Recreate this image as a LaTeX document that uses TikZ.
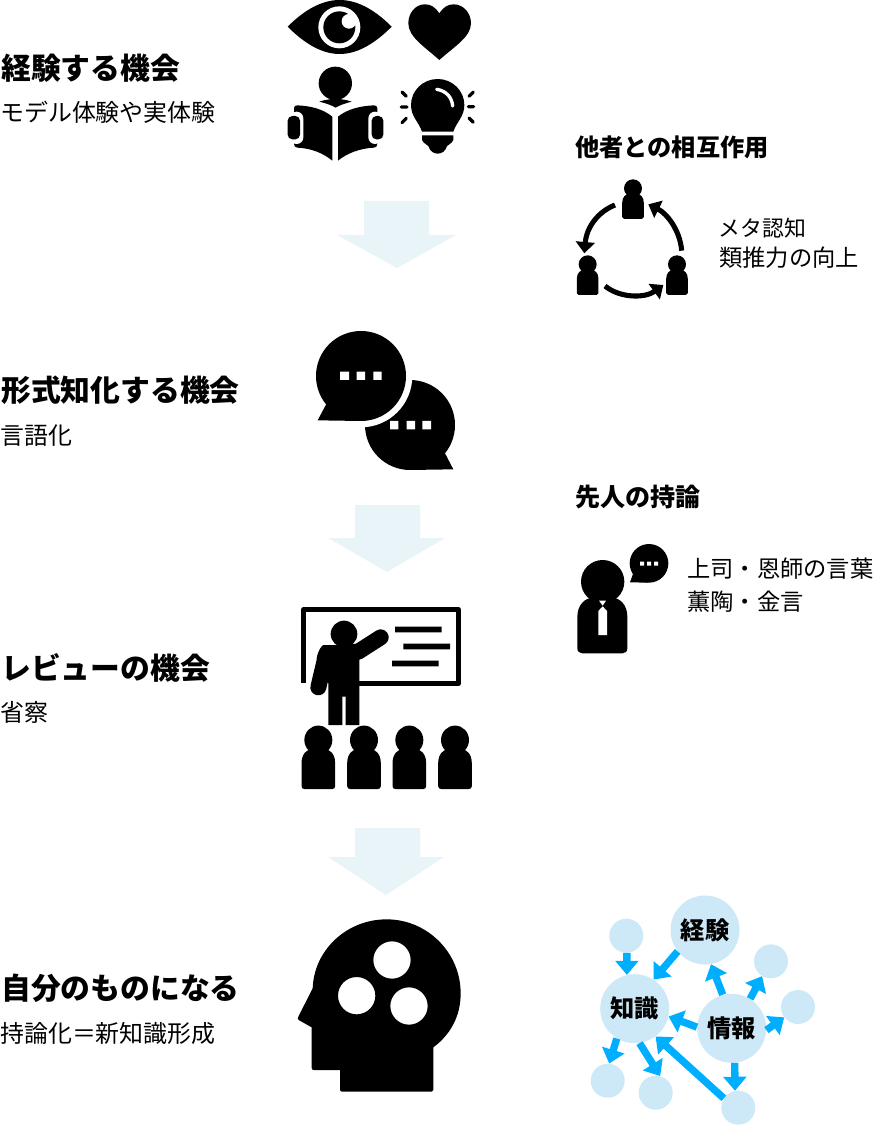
\documentclass[tikz,border=0pt]{standalone}
\usepackage{fontspec}
\setmainfont{Noto Sans CJK JP}
\usetikzlibrary{arrows.meta}
\definecolor{bigarrow}{HTML}{E8F4F8}
\definecolor{bubble}{HTML}{CDE8F6}
\definecolor{flow}{HTML}{00AEFF}
\tikzset{
  hdg/.style={anchor=base west,inner sep=0pt,font=\bfseries\fontsize{22.35}{26}\selectfont},
  subhdg/.style={anchor=base west,inner sep=0pt,font=\bfseries\fontsize{18.15}{22}\selectfont},
  txt/.style={anchor=base west,inner sep=0pt,font=\fontsize{17.45}{22}\selectfont},
  subtxt/.style={anchor=base west,inner sep=0pt,font=\fontsize{17.95}{22}\selectfont},
  bign/.style={circle,fill=bubble,inner sep=0pt,minimum size=51.75pt,font=\bfseries\fontsize{18.2}{22}\selectfont},
  smalln/.style={circle,fill=bubble,inner sep=0pt,minimum size=25.5pt},
  flowarrow/.style={draw=flow,line width=5.5pt,-{Triangle[length=10.5pt,width=17pt]}},
  cyclearrow/.style={line width=3.8pt,-{Triangle[length=8.5pt,width=14pt]}},
  zoomed/.style={shift={#1},scale=0.33333},
  personicon/.pic={
    \fill (0,0) circle (1);
    \fill (-1.2,1.6) .. controls (-1.2,0.95) and (-0.8,0.62) .. (-0.4,0.62) -- (0.4,0.62)
      .. controls (0.8,0.62) and (1.2,0.95) .. (1.2,1.6) -- (1.2,3.2)
      .. controls (1.2,3.32) and (1.12,3.4) .. (1,3.4) -- (-1,3.4)
      .. controls (-1.12,3.4) and (-1.2,3.32) .. (-1.2,3.2) -- cycle;
  }
}
\begin{document}
\begin{tikzpicture}[x=0.75pt,y=-0.75pt]
\useasboundingbox (0,0) rectangle (894,1144);
% --- texts
\node[hdg] (t1) at (1,80) {経験する機会};
\node[subtxt] (t1s) at (0,122) {モデル体験や実体験};
\node[hdg] (t2) at (1,401) {形式知化する機会};
\node[subtxt] (t2s) at (0,444) {言語化};
\node[hdg] (t3) at (1,679) {レビューの機会};
\node[subtxt] (t3s) at (0,721) {省察};
\node[hdg] (t4) at (1,999) {自分のものになる};
\node[subtxt] (t4s) at (0,1042) {持論化＝新知識形成};
\node[subhdg] (r1) at (575,157) {他者との相互作用};
\node[txt,font=\fontsize{16.4}{22}\selectfont] (r1a) at (718.5,237) {メタ認知};
\node[txt] (r1b) at (719,267) {類推力の向上};
\node[subhdg,font=\bfseries\fontsize{18.8}{22}\selectfont] (r2) at (575,506) {先人の持論};
\node[txt] (r2a) at (687,577) {上司・恩師の言葉};
\node[txt] (r2b) at (687,610) {薫陶・金言};
% --- big arrows
\fill[bigarrow] (364,201) -- (429,201) -- (429,235) -- (456,235) -- (397,268) -- (337,235) -- (364,235) -- cycle;
\fill[bigarrow] (355,505) -- (420,505) -- (420,538) -- (445,538) -- (387,572) -- (328,538) -- (355,538) -- cycle;
\fill[bigarrow] (355,828) -- (420,828) -- (420,857) -- (444,857) -- (386,895) -- (328,857) -- (355,857) -- cycle;
% --- eye, heart, reader, bulb
\begin{scope}[zoomed={(270,0)}]
  \fill (53,80) .. controls (97,36) and (150,0) .. (209,0) .. controls (268,0) and (321,36) .. (365,80)
     .. controls (321,124) and (268,162) .. (209,162) .. controls (150,162) and (97,124) .. cycle;
  \fill[white] (208,82) circle (63);
  \fill (208,82) circle (48);
  \fill[white] (237,64) circle (22);
  \fill (508,40) .. controls (495,21) and (483,13) .. (465,13) .. controls (435,13) and (415,40) .. (415,70)
     .. controls (415,111) and (465,141) .. (508,180) .. controls (551,141) and (603,111) .. (603,70)
     .. controls (603,40) and (581,13) .. (551,13) .. controls (533,13) and (521,21) .. cycle;
  % reader
  \fill (196,250) circle (50);
  \fill (148,305) .. controls (180,294) and (214,294) .. (245,305) .. controls (225,310) and (208,316) .. (197,323) .. controls (186,316) and (168,310) .. cycle;
  \fill (72,325) .. controls (72,319) and (76,316) .. (82,316) .. controls (125,318) and (160,328) .. (187,350)
     -- (187,482) .. controls (160,460) and (125,445) .. (82,443) .. controls (76,443) and (72,438) .. (72,432) -- cycle;
  \fill (322,325) .. controls (322,319) and (318,316) .. (312,316) .. controls (269,318) and (231,328) .. (204,350)
     -- (204,482) .. controls (231,460) and (269,445) .. (312,443) .. controls (318,443) and (322,438) .. (322,432) -- cycle;
  \fill[white,rounded corners=5pt] (60,335) rectangle (100,432);
  \fill[white,rounded corners=5pt] (295,335) rectangle (335,432);
  \fill[rounded corners=3.5pt] (53,348) rectangle (90,418);
  \fill[rounded corners=3.5pt] (305,348) rectangle (340,418);
  % bulb
  \fill (503,237) .. controls (547,237) and (583,272) .. (583,315) .. controls (583,350) and (560,365) .. (550,395)
     -- (456,395) .. controls (446,365) and (423,350) .. (423,315) .. controls (423,272) and (459,237) .. cycle;
  \fill (456,406) -- (550,406) -- (550,420) .. controls (545,432) and (530,436) .. (530,440)
     .. controls (527,452) and (516,461) .. (503,461) .. controls (490,461) and (479,452) .. (476,440)
     .. controls (476,436) and (461,432) .. (456,420) -- cycle;
  \draw[white,line width=2.5pt,line cap=round] (500,268) .. controls (528,272) and (546,292) .. (548,318);
  \draw[line width=2.4pt,line cap=round]
     (396,276) -- (409,289) (394,321) -- (411,321) (396,368) -- (409,355)
     (610,276) -- (597,289) (595,320) -- (611,320) (597,354) -- (610,367);
\end{scope}
% --- speech bubbles
\begin{scope}[zoomed={(305,320)}]
  \fill (315,315) circle (135);
  \fill (420,400) -- (445,448) -- (315,450) -- cycle;
  \fill[white] (168,168) circle (154);
  \fill (168,168) circle (135);
  \fill (65,250) -- (38,301) -- (168,303) -- cycle;
  \fill[white] (105,155) rectangle (132,180) (155,155) rectangle (180,180) (205,155) rectangle (230,180);
  \fill[white] (255,303) rectangle (280,328) (305,303) rectangle (330,328) (352,303) rectangle (378,328);
\end{scope}
% --- cycle icon
\begin{scope}[zoomed={(570,170)}]
  \pic[scale=9] at (189,55) {personicon};
  \pic[scale=9] at (53,283) {personicon};
  \pic[scale=9] at (321,283) {personicon};
  \draw[cyclearrow] (135,105) .. controls (85,125) and (50,170) .. (43,250);
  \draw[cyclearrow] (335,242) .. controls (330,180) and (290,130) .. (235,103);
  \draw[cyclearrow] (105,348) .. controls (150,385) and (225,385) .. (280,345);
\end{scope}
% --- boss
\begin{scope}[zoomed={(570,535)}]
  \fill (98,140) circle (65);
  \fill (22,245) .. controls (22,210) and (45,188) .. (70,188) -- (125,188) .. controls (150,188) and (172,210) .. (172,245)
     -- (172,340) .. controls (172,350) and (165,355) .. (157,355) -- (37,355) .. controls (29,355) and (22,350) .. (22,340) -- cycle;
  \fill[white] (87,197) -- (108,197) -- (98,212) -- cycle;
  \fill[white] (98,214) -- (111,228) -- (111,300) -- (85,300) -- (85,228) -- cycle;
  \fill (237,85) circle (58);
  \fill (192,108) -- (180,142) -- (235,143) -- cycle;
  \fill[white] (210,80) rectangle (222,92) (231,80) rectangle (243,92) (252,80) rectangle (264,92);
\end{scope}
% --- lecturer
\begin{scope}[zoomed={(290,600)}]
  \draw[line width=3.75pt,line join=round] (41,248) -- (41,29) -- (505.5,29) -- (505.5,250.5) -- (205,250.5);
  \fill (315,80) rectangle (455,97) (340,131) rectangle (480,148) (306,182) rectangle (446,199);
  \fill (162,102) circle (40);
  \fill (100,135) -- (165,135) -- (208,130) -- (208,290) -- (208,375) -- (167,375) -- (167,290) -- (157,290) -- (157,375) -- (115,375) -- (115,250) -- (80,175) .. controls (85,150) and (95,137) .. cycle;
  \draw[line width=12pt,line cap=round] (205,155) -- (272,112);
  \draw[line width=12pt,line cap=round] (108,165) -- (85,262);
  \pic[scale=14,yscale=1.03] at (85,420) {personicon};
  \pic[scale=14,yscale=1.03] at (222,420) {personicon};
  \pic[scale=14,yscale=1.03] at (358,420) {personicon};
  \pic[scale=14,yscale=1.03] at (495,420) {personicon};
\end{scope}
% --- head
\begin{scope}[zoomed={(290,910)}]
  \fill[even odd rule] (68,235) .. controls (72,120) and (170,28) .. (290,28) .. controls (412,28) and (512,128) .. (512,250)
     .. controls (512,320) and (480,375) .. (430,412) -- (430,540) .. controls (430,543) and (428,545) .. (425,545)
     -- (155,545) .. controls (152,545) and (150,543) .. (150,540) -- (150,480) -- (72,480) .. controls (68,480) and (65,478) .. (65,474)
     -- (65,352) -- (26,330) .. controls (23,328) and (23,324) .. (25,320) -- cycle
     (306,150) circle (56) (200,257) circle (56) (357,288) circle (56);
\end{scope}
% --- knowledge network
\node[bign] (exp) at (705,930) {\raisebox{-0.7pt}{経験}};
\node[bign] (know) at (634.7,1008.7) {\raisebox{-0.7pt}{知識}};
\node[bign] (info) at (731.7,1028.3) {\raisebox{-0.7pt}{情報}};
\node[smalln] (a) at (626.3,935.7) {};
\node[smalln] (b) at (771,961.3) {};
\node[smalln] (c) at (798,1007) {};
\node[smalln] (d) at (607.7,1080.7) {};
\node[smalln] (e) at (655.7,1092.7) {};
\node[smalln] (f) at (738.3,1107.7) {};
\draw[flowarrow] (a.-88) -- (know.103);
\draw[flowarrow] (exp.218) -- (know.57);
\draw[flowarrow] (info.105) -- (exp.-80);
\draw[flowarrow] (info.58) -- (b.239);
\draw[flowarrow] (info.-3) -- (c.217);
\draw[flowarrow] (info.178) -- (know.-13);
\draw[flowarrow] (info.-85) -- (f.101);
\draw[flowarrow] (know.239) -- (d.85);
\draw[flowarrow] (know.-82) -- (e.75);
\draw[flowarrow] (f.147) -- (know.-53);
\end{tikzpicture}
\end{document}
